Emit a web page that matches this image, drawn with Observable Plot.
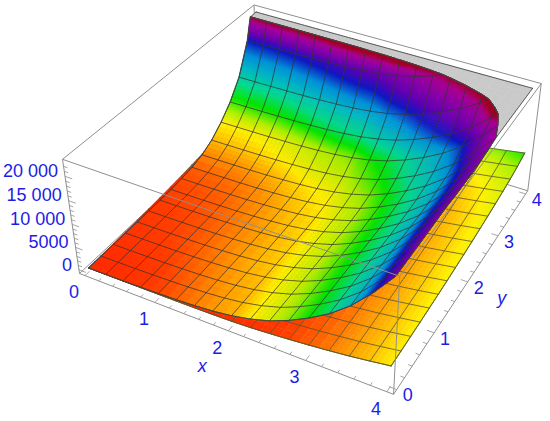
<!DOCTYPE html>
<html><head><meta charset="utf-8">
<style>html,body{margin:0;padding:0;background:#fff}svg{display:block}</style>
<script src="https://cdn.jsdelivr.net/npm/d3@7"></script>
<script src="https://cdn.jsdelivr.net/npm/@observablehq/plot@0.6"></script>
</head><body><div id="chart"></div>
<script>
const gridX=[0,.25,.5,.75,1,1.25,1.5,1.75,2,2.25,2.5,2.75,3,3.25,3.5,3.75,4];
const gridY=gridX;
const xLim=[-.08,4.08], yLim=[-.08,4.08], zLim=[-850,23400], clipZ=22670;
const xTicks=[0,1,2,3,4], yTicks=[0,1,2,3,4];
const zTicks=[0,5000,10000,15000,20000], zTickLabels=["0","5000","10 000","15 000","20 000"];
// upper sheet height, rows by y, columns by x
const upperZ=[
[0,30,80,150,260,420,650,1000,1550,2400,3600,5300,7400,9900,13100,17200,22000],
[20,50,100,170,280,440,670,1020,1570,2420,3620,5320,7420,9920,13120,17220,22020],
[40,70,120,190,300,460,690,1040,1590,2440,3640,5340,7440,9940,13140,17240,22040],
[70,100,150,220,330,490,720,1070,1620,2470,3670,5370,7470,9970,13170,17270,22070],
[100,130,180,250,360,520,750,1100,1650,2500,3700,5400,7500,10000,13200,17300,22100],
[150,180,230,300,410,570,800,1150,1700,2550,3750,5450,7550,10050,13250,17350,22150],
[220,250,300,370,480,640,860,1210,1750,2600,3780,5470,7550,10020,13190,17250,22000],
[340,370,420,490,600,750,980,1320,1860,2690,3870,5530,7590,10040,13180,17200,21900],
[550,580,630,700,800,960,1180,1520,2050,2880,4040,5690,7730,10150,13260,17230,21890],
[900,930,980,1040,1150,1300,1520,1860,2390,3200,4360,5990,8000,10400,13480,17410,22020],
[1600,1630,1680,1740,1840,2000,2210,2540,3060,3860,4980,6580,8560,10910,13910,17770,22280],
[2900,2930,2970,3040,3130,3280,3490,3800,4300,5060,6140,7670,9560,11810,14690,18380,22700],
[5000,5030,5070,5130,5220,5360,5560,5860,6330,7060,8100,9560,11360,13510,16270,19790,23920],
[7700,7720,7760,7820,7910,8040,8220,8500,8940,9620,10580,11940,13620,15620,18180,21460,25300],
[11500,11520,11560,11610,11700,11820,11990,12250,12660,13300,14200,15480,17050,18930,21330,24400,28000],
[18000,18020,18060,18110,18190,18300,18470,18720,19120,19730,20590,21820,23330,25130,27430,30380,33840],
[30000,30020,30060,30080,30130,30210,30330,30500,30790,31200,31800,32700,33800,35000,37000,40000,45000]];
// upper sheet colour phase in degrees
const upperHue=[
[5,7,9,12,17,23,30,37,43,60,75,97,120,145,180,235,285],
[6,8,10,13,18,24,31,38,44,61,76,98,121,146,181,236,286],
[8,10,12,15,20,26,33,40,46,63,78,100,123,148,183,238,288],
[10,12,14,17,22,28,35,42,48,65,80,102,125,150,185,240,290],
[12,14,16,19,24,30,37,44,50,67,82,104,127,152,187,242,292],
[13,15,17,20,25,31,38,45,51,68,83,105,128,153,188,243,293],
[14,16,18,21,26,32,39,46,52,69,84,106,129,154,189,244,294],
[16,18,20,23,28,34,41,48,54,71,86,108,131,156,191,246,296],
[18,20,22,25,30,36,43,50,56,73,88,110,133,158,193,248,298],
[22,24,26,29,34,40,47,54,60,77,92,114,137,162,197,252,302],
[30,32,34,37,42,48,55,62,68,85,100,122,145,170,205,260,310],
[45,47,49,52,57,63,70,77,83,100,115,137,160,185,220,275,325],
[60,62,64,67,72,78,85,92,98,115,130,152,175,200,235,290,340],
[110,112,114,117,122,128,135,142,148,165,180,202,225,250,285,340,390],
[160,162,164,167,172,178,185,192,198,215,230,252,275,300,335,390,440],
[240,242,244,247,252,258,265,272,278,295,310,332,355,380,415,470,520],
[525,527,529,532,537,543,550,557,563,573,583,597,625,650,695,755,805]];
// lower sheet height
const lowerZ=[
[0,10,25,45,70,100,140,200,300,500,800,1150,1550,2000,2500,3100,3760],
[70,80,95,115,140,170,210,270,370,570,870,1220,1620,2070,2570,3170,3830],
[160,170,185,205,230,260,300,360,460,660,960,1310,1710,2160,2660,3260,3920],
[270,280,295,315,340,370,410,470,570,770,1070,1420,1820,2270,2770,3370,4030],
[400,410,425,445,470,500,540,600,700,900,1200,1550,1950,2400,2900,3500,4160],
[550,560,575,595,620,650,690,750,850,1050,1350,1700,2100,2550,3050,3650,4310],
[720,730,745,765,790,820,860,920,1020,1220,1520,1870,2270,2720,3220,3820,4480],
[920,930,945,965,990,1020,1060,1120,1220,1420,1720,2070,2470,2920,3420,4020,4680],
[1150,1160,1175,1195,1220,1250,1290,1350,1450,1650,1950,2300,2700,3150,3650,4250,4910],
[1400,1410,1425,1445,1470,1500,1540,1600,1700,1900,2200,2550,2950,3400,3900,4500,5160],
[1700,1710,1725,1745,1770,1800,1840,1900,2000,2200,2500,2850,3250,3700,4200,4800,5460],
[2000,2010,2025,2045,2070,2100,2140,2200,2300,2500,2800,3150,3550,4000,4500,5100,5760],
[2350,2360,2375,2395,2420,2450,2490,2550,2650,2850,3150,3500,3900,4350,4850,5450,6110],
[2750,2760,2775,2795,2820,2850,2890,2950,3050,3250,3550,3900,4300,4750,5250,5850,6510],
[3200,3210,3225,3245,3270,3300,3340,3400,3500,3700,4000,4350,4750,5200,5700,6300,6960],
[3800,3810,3825,3845,3870,3900,3940,4000,4100,4300,4600,4950,5350,5800,6300,6900,7560],
[4600,4610,4625,4645,4670,4700,4740,4800,4900,5100,5400,5750,6150,6600,7100,7700,8360]];
const lowerHue=[
[2,2,3,3,4,5,6,7,8,10,13,17,22,29,38,48,60],
[2,2,3,3,4,5,6,7,8,10,13,17,22,29,38,48,60],
[2,2,3,3,4,5,6,7,8,10,13,17,22,29,38,48,60],
[3,3,4,4,5,6,7,8,9,11,14,18,23,30,39,49,61],
[3,3,4,4,5,6,7,8,9,11,14,18,23,30,39,49,61],
[4,4,5,5,6,7,8,9,10,12,15,19,24,31,40,50,62],
[4,4,5,5,6,7,8,9,10,12,15,19,24,31,40,50,62],
[5,5,6,6,7,8,9,10,11,13,16,20,25,32,41,51,63],
[5,5,6,6,7,8,9,10,11,13,16,20,25,32,41,51,63],
[6,6,7,7,8,9,10,11,12,14,17,21,26,33,42,52,64],
[7,7,8,8,9,10,11,12,13,15,18,22,27,34,43,53,65],
[8,8,9,9,10,11,12,13,14,16,19,23,28,35,44,54,66],
[11,11,12,12,13,14,15,16,17,19,22,26,31,38,47,57,69],
[15,15,16,16,17,18,19,20,21,23,26,30,35,42,51,61,73],
[24,24,25,25,26,27,28,29,30,32,35,39,44,51,60,70,82],
[35,35,36,36,37,38,39,40,41,43,46,50,55,62,71,81,93],
[57,57,58,58,59,60,61,62,63,65,68,72,77,84,93,103,115]];
const hueStops=[0,15,30,45,60,90,120,150,180,210,240,270,300,330,350];
const hueColors=["#ff2000","#ff3c00","#ff8000","#ffb800","#fff000","#a8f000","#00e600","#00d890","#00b8c0","#0090d8","#1018c0","#6000b0","#8800a8","#a80090","#a00020"];

function project(x,y,z){
  const u=(x-xLim[0])/(xLim[1]-xLim[0]), v=(y-yLim[0])/(yLim[1]-yLim[0]), w=(z-zLim[0])/(zLim[1]-zLim[0]);
  const W=1-.0994*u+.2114*v-.0669*w;
  return [(79+275*u+232.3*v-21.15*w)/W,(273+81.7*u-143.1*v-124.8*w)/W];
}
const px=d=>project(d.x,d.y,d.z)[0], py=d=>project(d.x,d.y,d.z)[1];
function sample(T,fx,fy){
  const n=gridX.length-1, i=Math.min(Math.floor(fx),n-1), j=Math.min(Math.floor(fy),n-1), a=fx-i, b=fy-j;
  return (T[j][i]*(1-a)+T[j][i+1]*a)*(1-b)+(T[j+1][i]*(1-a)+T[j+1][i+1]*a)*b;
}
function node(zT,hT,fx,fy){
  return {x:fx/(gridX.length-1)*4,y:fy/(gridY.length-1)*4,z:sample(zT,fx,fy),h:sample(hT,fx,fy)};
}
function clipPoly(poly,below,segs){
  const out=[],cut=[];
  for(let k=0;k<poly.length;k++){
    const a=poly[k],b=poly[(k+1)%poly.length];
    const ia=below?a.z<=clipZ:a.z>=clipZ, ib=below?b.z<=clipZ:b.z>=clipZ;
    if(ia)out.push(below?a:{...a,z:clipZ});
    if(ia!==ib){const t=(clipZ-a.z)/(b.z-a.z);
      const p={x:a.x+(b.x-a.x)*t,y:a.y+(b.y-a.y)*t,z:clipZ,h:a.h+(b.h-a.h)*t};out.push(p);cut.push(p);}
  }
  if(segs&&cut.length===2)segs.push(cut);
  return out;
}
function quads(zT,hT,maxHueStep){
  const n=gridX.length-1,below=[],cap=[],segs=[];let id=0;
  function emit(a0,a1,b0,b1,depth){
    const c=[[a0,b0],[a1,b0],[a1,b1],[a0,b1]].map(([a,b])=>node(zT,hT,a,b));
    const hs=c.map(d=>d.h), zs=c.map(d=>d.z);
    if(depth<5&&d3.max(hs)-d3.min(hs)>maxHueStep&&d3.min(hs)<360&&d3.min(zs)<clipZ||depth<1){
      const am=(a0+a1)/2,bm=(b0+b1)/2;
      emit(a0,am,bm,b1,depth+1);emit(am,a1,bm,b1,depth+1);
      emit(a0,am,b0,bm,depth+1);emit(am,a1,b0,bm,depth+1);
      return;
    }
    const lo=clipPoly(c,true,segs), hi=clipPoly(c,false);
    if(lo.length>2){id++;const h=d3.mean(lo,d=>d.h);lo.forEach(p=>below.push({...p,h,id}));}
    if(hi.length>2){id++;hi.forEach(p=>cap.push({...p,id}));}
  }
  for(let j=n-1;j>=0;j--)for(let i=0;i<n;i++)emit(i,i+1,j,j+1,0);
  return {below,cap,segs};
}
function meshLines(zT,hT,s){
  const n=gridX.length-1,out=[];let id=0;
  for(let k=0;k<=n;k++){
    for(const dir of [0,1]){
      id++;
      for(let t=0;t<=n*s;t++){
        const p=dir?node(zT,hT,k,t/s):node(zT,hT,t/s,k);
        if(p.z<=clipZ)out.push({...p,id});else id++;
      }
    }
  }
  return out;
}
const upper=quads(upperZ,upperHue,5);
const lower=quads(lowerZ,lowerHue,4);
const clipLine=upper.segs.flatMap((s,i)=>s.map(p=>({...p,id:i})));
function border(zT,hT){
  const n=gridX.length-1,out=[],f=p=>({...p,z:Math.min(p.z,clipZ)});
  for(let t=0;t<=n*6;t++){
    out.push({...f(node(zT,hT,t/6,0)),id:"a"});
    out.push({...f(node(zT,hT,0,t/6)),id:"b"});
    out.push({...f(node(zT,hT,t/6,n)),id:"c"});
    out.push({...f(node(zT,hT,n,t/6)),id:"d"});
  }
  return out;
}
const [x0,x1]=xLim,[y0,y1]=yLim,[z0,z1]=zLim;
const seg=(A,B)=>{const p=project(...A),q=project(...B);return {x1:p[0],y1:p[1],x2:q[0],y2:q[1]};};
const backEdges=[[[x0,y0,z0],[x0,y1,z0]],[[x0,y1,z0],[x1,y1,z0]],[[x0,y1,z0],[x0,y1,z1]]].map(e=>seg(...e));
const frontEdges=[
 [[x0,y0,z1],[x1,y0,z1]],[[x1,y0,z1],[x1,y1,z1]],[[x1,y1,z1],[x0,y1,z1]],[[x0,y1,z1],[x0,y0,z1]],
 [[x0,y0,z0],[x0,y0,z1]],[[x1,y0,z0],[x1,y0,z1]],[[x1,y1,z0],[x1,y1,z1]],
 [[x0,y0,z0],[x1,y0,z0]],[[x1,y0,z0],[x1,y1,z0]]].map(e=>seg(...e));
const tickSegs=[];
for(let t=0;t<=4.001;t+=.2){const M=Math.abs(t-Math.round(t))<.01,L=M?.09:.05;
  tickSegs.push(seg([t,y0,z0],[t,y0+L,z0]));
  tickSegs.push(seg([x1,t,z0],[x1-L,t,z0]));}
for(let t=0;t<=22000;t+=1000){const L=t%5000===0?.1:.055;
  tickSegs.push(seg([x0,y0,t],[x0+L,y0,t]));}
const lineStyle={x1:"x1",y1:"y1",x2:"x2",y2:"y2",stroke:"#8f8f8f",strokeWidth:1};
const txt={fill:"#1c1ce6",fontSize:18,fontFamily:"Liberation Sans, Arial, sans-serif"};
const poly=(data,opts)=>Plot.line(data,{x:px,y:py,z:"id",curve:"linear-closed",...opts});
const ml=(data,opts)=>Plot.line(data,{x:px,y:py,z:"id",...opts});
const plot=Plot.plot({
  width:550,height:421,margin:0,
  style:{background:"#fff"},
  x:{domain:[0,550],range:[0,550],axis:null},
  y:{domain:[0,421],range:[0,421],axis:null},
  color:{type:"linear",domain:hueStops,range:hueColors,interpolate:"rgb",clamp:true},
  marks:[
    Plot.link(backEdges,lineStyle),
    poly(lower.below,{fill:"h",stroke:"h",strokeWidth:.5}),
    ml(meshLines(lowerZ,lowerHue,2),{stroke:"#4d4d30",strokeWidth:.9,strokeOpacity:.85}),
    ml(border(lowerZ,lowerHue).filter(d=>d.id==="a"||d.id==="d"),{stroke:"#5a5a20",strokeWidth:.8}),
    poly(upper.cap,{fill:"#c9c9c9",stroke:"#c9c9c9",strokeWidth:.5}),
    poly(upper.below,{fill:"h",stroke:"h",strokeWidth:.5}),
    ml(meshLines(upperZ,upperHue,8),{stroke:"#333",strokeWidth:.9,strokeOpacity:.85}),
    ml(border(upperZ,upperHue),{stroke:"#444",strokeWidth:.9}),
    ml(clipLine,{stroke:"#444",strokeWidth:.9}),
    Plot.link(frontEdges,lineStyle),
    Plot.link(tickSegs,{...lineStyle,strokeWidth:.8}),
    Plot.text(xTicks,{x:d=>project(d,y0,z0)[0],y:d=>project(d,y0,z0)[1],text:d=>String(d),dx:-11,dy:17,...txt}),
    Plot.text(yTicks,{x:d=>project(x1,d,z0)[0],y:d=>project(x1,d,z0)[1],text:d=>String(d),dx:11,dy:6,...txt}),
    Plot.text(zTicks,{x:d=>project(x0,y0,d)[0],y:d=>project(x0,y0,d)[1],text:(d,i)=>zTickLabels[i],textAnchor:"end",dx:-7,dy:-5,...txt}),
    Plot.text(["x"],{x:()=>project(2,y0,z0)[0],y:()=>project(2,y0,z0)[1],text:d=>d,dx:-26,dy:35,fontStyle:"italic",...txt}),
    Plot.text(["y"],{x:()=>project(x1,2,z0)[0],y:()=>project(x1,2,z0)[1],text:d=>d,dx:34,dy:16,fontStyle:"italic",...txt})
  ]
});
document.getElementById("chart").append(plot);
</script></body></html>
